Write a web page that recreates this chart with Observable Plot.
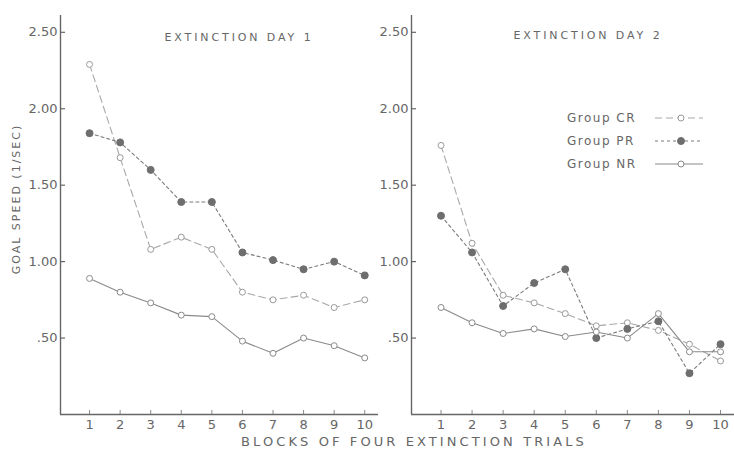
<!DOCTYPE html>
<html><head><meta charset="utf-8">
<script src="https://cdn.jsdelivr.net/npm/d3@7"></script>
<script src="https://cdn.jsdelivr.net/npm/@observablehq/plot@0.6"></script>
<style>
body{margin:0;background:#fff;}
#wrap{position:relative;width:734px;height:464px;overflow:hidden;font-family:"DejaVu Sans",sans-serif;color:#666;}
.abs{position:absolute;white-space:nowrap;}
.title{font-size:11px;letter-spacing:2.9px;transform:translate(-50%,-50%);}
</style></head><body><div id="wrap"></div>
<script>
const blocks = [1,2,3,4,5,6,7,8,9,10];
const groups = ["CR","PR","NR"];
const day1CR = [2.29,1.68,1.08,1.16,1.08,0.80,0.75,0.78,0.70,0.75];
const day1PR = [1.84,1.78,1.60,1.39,1.39,1.06,1.01,0.95,1.00,0.91];
const day1NR = [0.89,0.80,0.73,0.65,0.64,0.48,0.40,0.50,0.45,0.37];
const day2CR = [1.76,1.12,0.78,0.73,0.66,0.58,0.60,0.55,0.46,0.35];
const day2PR = [1.30,1.06,0.71,0.86,0.95,0.50,0.56,0.61,0.27,0.46];
const day2NR = [0.70,0.60,0.53,0.56,0.51,0.54,0.50,0.66,0.41,0.41];
const yTicks = [0.5,1,1.5,2,2.5];
const yTickLabels = [".50","1.00","1.50","2.00","2.50"];
const titles = ["EXTINCTION DAY 1","EXTINCTION DAY 2"];
const xLabel = "BLOCKS OF FOUR EXTINCTION TRIALS";
const yLabel = "GOAL SPEED (1/SEC)";
const legendLabels = ["Group CR","Group PR","Group NR"];

const series = {1:{CR:day1CR,PR:day1PR,NR:day1NR},2:{CR:day2CR,PR:day2PR,NR:day2NR}};
const rows = [];
for (const day of [1,2]) for (const g of groups) series[day][g].forEach((v,i)=>rows.push({day,group:g,block:blocks[i],speed:v}));

const sty = {
  CR:{stroke:"#a8a8a8", dash:"7,4", fill:"white", dotStroke:"#9a9a9a", r:3},
  PR:{stroke:"#7a7a7a", dash:"3,3", fill:"#6e6e6e", dotStroke:"#6e6e6e", r:3.5},
  NR:{stroke:"#8a8a8a", dash:null, fill:"white", dotStroke:"#8a8a8a", r:3}
};
const xDom = [0.05,10.45], yDom = [0,2.61];
const H = 464, MT = 15, MB = 50;

function panel(day, width, marginLeft){
  const fw = width - marginLeft, fh = H - MT - MB;
  const marks = [
    Plot.ruleY([0],{stroke:"#666",strokeWidth:1.4}),
    Plot.ruleX([xDom[0]],{stroke:"#666",strokeWidth:1.4}),
    Plot.tickY(yTicks,{y:d=>d, stroke:"#666", strokeWidth:1.2, insetRight: fw - 5}),
    Plot.tickX(blocks,{x:d=>d, stroke:"#888", strokeWidth:1, insetTop: fh - 4}),
    Plot.axisY({ticks:yTicks, tickFormat:d=>yTickLabels[yTicks.indexOf(d)], tickSize:0, tickPadding:3, fill:"#666", fontSize:13, label:null}),
    Plot.axisX({ticks:blocks, tickFormat:d=>String(d), tickSize:0, tickPadding:5, fill:"#666", fontSize:13, label:null})
  ];
  for (const g of groups){
    const data = rows.filter(r=>r.day===day && r.group===g);
    const s = sty[g];
    marks.push(Plot.line(data,{x:"block",y:"speed",stroke:s.stroke,strokeWidth:1.1,strokeDasharray:s.dash}));
  }
  for (const g of groups){
    const data = rows.filter(r=>r.day===day && r.group===g);
    const s = sty[g];
    marks.push(Plot.dot(data,{x:"block",y:"speed",r:s.r,fill:s.fill,stroke:s.dotStroke,strokeWidth:1}));
  }
  return Plot.plot({
    width, height:H, marginTop:MT, marginBottom:MB, marginLeft, marginRight:0,
    x:{domain:xDom, axis:null}, y:{domain:yDom, axis:null},
    style:{fontFamily:'"DejaVu Sans",sans-serif', background:"transparent", color:"#666"},
    marks
  });
}

const wrap = document.getElementById("wrap");
const p1 = panel(1, 378, 60); p1.style.position="absolute"; p1.style.left="0px"; p1.style.top="0px";
const p2 = panel(2, 356, 33); p2.style.position="absolute"; p2.style.left="378px"; p2.style.top="0px";
wrap.appendChild(p1); wrap.appendChild(p2);

function addDiv(text, css, cls){
  const d = document.createElement("div"); d.className = "abs " + (cls||""); d.textContent = text;
  Object.assign(d.style, css); wrap.appendChild(d); return d;
}
addDiv(titles[0], {left:"239px", top:"37px"}, "title");
addDiv(titles[1], {left:"588px", top:"35px"}, "title");
addDiv(xLabel, {left:"414px", top:"441px", fontSize:"13px", letterSpacing:"3.1px", transform:"translate(-50%,-50%)"});
addDiv(yLabel, {left:"16px", top:"199px", fontSize:"11px", letterSpacing:"2px", transform:"translate(-50%,-50%) rotate(-90deg)"});

// legend
const leg = d3.select(wrap).append("svg").attr("width",734).attr("height",464)
  .style("position","absolute").style("left","0px").style("top","0px").style("pointer-events","none");
groups.forEach((g,i)=>{
  const y = 118 + 23*i, s = sty[g];
  leg.append("text").attr("x",567).attr("y",y).attr("dy","0.35em").attr("fill","#666")
    .attr("font-family",'"DejaVu Sans",sans-serif').attr("font-size",12).attr("letter-spacing","1.5px").text(legendLabels[i]);
  leg.append("line").attr("x1",655).attr("x2",703).attr("y1",y).attr("y2",y)
    .attr("stroke",s.stroke).attr("stroke-width",1.1).attr("stroke-dasharray",s.dash);
  leg.append("circle").attr("cx",681).attr("cy",y).attr("r",s.r).attr("fill",s.fill).attr("stroke",s.dotStroke);
});
</script></body></html>
